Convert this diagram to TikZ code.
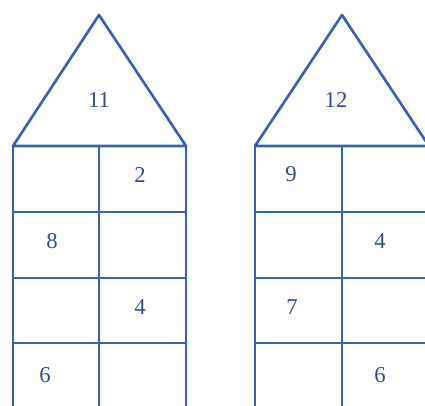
\documentclass[tikz,border=0pt]{standalone}
\usepackage{fontspec}
\setmainfont{Liberation Serif}
\definecolor{colLine}{HTML}{3A62B4}
\definecolor{colNum}{HTML}{2E4D94}
\def\numfont{\fontsize{17pt}{19pt}\selectfont}
\tikzset{
  num/.style={font=\numfont, text=colNum, inner sep=0pt},
  wall/.style={draw=colLine, line width=2pt, line join=round}
}
\newcommand{\house}[3]{%
  \draw[wall] (#1,146) -- (#2,15) -- (#3,146) -- cycle;
  \draw[wall] (#1,146) -- (#1,412) (#2,146) -- (#2,412) (#3,146) -- (#3,412);
  \foreach \y in {212,278,343} \draw[wall] (#1,\y) -- (#3,\y);}

\begin{document}
\begin{tikzpicture}[x=0.75pt, y=-0.75pt]
\useasboundingbox (0,0) rectangle (425,405);
\clip (0,0) rectangle (425,405);

% ===== LEFT house: 11 =====
\house{13}{99}{186}
\node[num] (roofA) at (99,100) {11};
\node[num] (a12) at (140,175) {2};
\node[num] (a21) at (52,241) {8};
\node[num] (a32) at (140,307) {4};
\node[num] (a41) at (45,375) {6};

% ===== RIGHT house: 12 =====
\house{255}{342}{429}
\node[num] (roofB) at (336,100) {12};
\node[num] (b11) at (291,174) {9};
\node[num] (b22) at (380,241) {4};
\node[num] (b31) at (292,307) {7};
\node[num] (b42) at (380,375) {6};

\end{tikzpicture}
\end{document}
